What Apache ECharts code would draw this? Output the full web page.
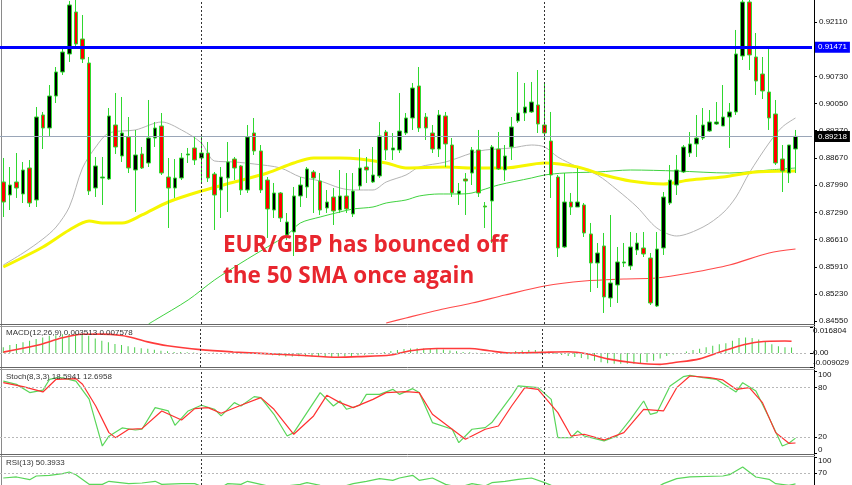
<!DOCTYPE html>
<html><head><meta charset="utf-8">
<script src="https://cdn.jsdelivr.net/npm/echarts@6/dist/echarts.min.js"></script>
<style>html,body{margin:0;padding:0;background:#fff}#c{width:852px;height:485px}</style>
</head><body><div id="c"></div>
<script>
// ---- EUR/GBP candles (price units) ----
const opens = [0.88065,0.87736,0.88065,0.87762,0.88419,0.87610,0.89759,0.89430,0.90239,0.90846,0.91301,0.92363,0.91680,0.91073,0.87913,0.88166,0.88141,0.89506,0.88722,0.89203,0.88368,0.88773,0.88545,0.89177,0.89481,0.88191,0.87913,0.88166,0.88748,0.88925,0.88672,0.88798,0.88267,0.87863,0.88166,0.88646,0.88470,0.87863,0.89304,0.88849,0.88115,0.87357,0.87787,0.86726,0.86801,0.87711,0.87939,0.88318,0.88090,0.87408,0.87686,0.87357,0.87711,0.87256,0.87964,0.88444,0.88065,0.88217,0.89329,0.88874,0.88874,0.89304,0.89683,0.90492,0.89708,0.89304,0.88899,0.89734,0.89000,0.87762,0.88141,0.88292,0.88874,0.87458,0.87585,0.88899,0.88368,0.88950,0.89607,0.89809,0.89835,0.90012,0.89506,0.89101,0.88191,0.86422,0.87559,0.87433,0.87484,0.86751,0.86017,0.86447,0.85132,0.85461,0.86017,0.85942,0.86346,0.86397,0.86144,0.84930,0.86397,0.87534,0.87989,0.88318,0.88798,0.89026,0.89177,0.89354,0.89531,0.89481,0.89708,0.89835,0.91250,0.92615,0.91225,0.90795,0.90340,0.89784,0.88646,0.88292,0.88899];
const closes = [0.87559,0.87989,0.87913,0.88368,0.87534,0.89708,0.89430,0.90239,0.90846,0.91351,0.92540,0.91554,0.91174,0.87837,0.88470,0.88191,0.89734,0.88950,0.89304,0.88419,0.88748,0.88419,0.89177,0.89430,0.88292,0.87913,0.88166,0.88672,0.88773,0.88621,0.88798,0.88166,0.87736,0.88191,0.88571,0.88419,0.87863,0.89203,0.88849,0.87863,0.87383,0.87787,0.87155,0.87054,0.87711,0.87989,0.88394,0.88166,0.87357,0.87559,0.87332,0.87711,0.87383,0.87837,0.88419,0.88368,0.88242,0.89228,0.88874,0.88925,0.89354,0.89683,0.90441,0.89430,0.89430,0.88899,0.89759,0.89026,0.87787,0.87837,0.88090,0.88874,0.87787,0.87433,0.88950,0.88394,0.88722,0.89456,0.89809,0.89961,0.90087,0.89531,0.89304,0.88242,0.86397,0.87559,0.87433,0.87559,0.86776,0.86017,0.86270,0.85158,0.85512,0.86043,0.86043,0.86422,0.86523,0.86245,0.85006,0.86371,0.87686,0.88115,0.88368,0.88950,0.89026,0.89177,0.89506,0.89582,0.89582,0.89708,0.89835,0.91301,0.92615,0.91276,0.90618,0.90366,0.89683,0.88545,0.88343,0.89000,0.89218];
const lows = [0.87180,0.87357,0.87661,0.87534,0.87433,0.87433,0.88899,0.89203,0.90062,0.90770,0.91099,0.91427,0.91073,0.87736,0.87686,0.87484,0.88115,0.88773,0.88571,0.88292,0.87307,0.88394,0.88444,0.88950,0.88242,0.86902,0.87661,0.88115,0.88545,0.88495,0.88065,0.88065,0.86852,0.87155,0.87307,0.88115,0.87736,0.87787,0.88748,0.87787,0.86650,0.87155,0.87054,0.86599,0.86194,0.87433,0.87661,0.87281,0.87231,0.87281,0.86978,0.87281,0.87281,0.87180,0.87863,0.88040,0.88040,0.88166,0.88621,0.88621,0.88798,0.89253,0.89380,0.89329,0.89127,0.88798,0.88697,0.88444,0.87686,0.87484,0.87231,0.87989,0.87686,0.86902,0.86523,0.88368,0.88090,0.88621,0.89557,0.89607,0.89809,0.89304,0.89177,0.87661,0.86169,0.86397,0.87231,0.87433,0.86675,0.85284,0.85385,0.84754,0.84905,0.85006,0.85916,0.85840,0.86220,0.86169,0.84956,0.84905,0.86220,0.87484,0.87736,0.88292,0.88697,0.88697,0.89127,0.89329,0.89506,0.89481,0.88925,0.89759,0.91149,0.90896,0.90264,0.90163,0.89380,0.88495,0.87812,0.88040,0.88292];
const highs = [0.88672,0.88444,0.88798,0.88571,0.88621,0.89961,0.89835,0.90517,0.90972,0.91478,0.92641,0.92666,0.92287,0.91225,0.88697,0.88697,0.89936,0.90315,0.90214,0.89708,0.89380,0.88950,0.90138,0.89582,0.89809,0.88672,0.88646,0.88798,0.88925,0.89203,0.89253,0.89076,0.88318,0.88444,0.89076,0.88697,0.88495,0.89506,0.89683,0.89000,0.88191,0.88040,0.87812,0.87281,0.87939,0.88191,0.88444,0.88368,0.88292,0.87863,0.87913,0.88368,0.88292,0.88292,0.88899,0.88697,0.88950,0.89582,0.89380,0.89304,0.90315,0.89809,0.90568,0.90972,0.89809,0.89506,0.89885,0.89835,0.89177,0.88040,0.88292,0.88950,0.89380,0.87559,0.89000,0.89329,0.89000,0.89708,0.90846,0.90568,0.90593,0.90896,0.90593,0.89835,0.88242,0.88292,0.87787,0.88419,0.87534,0.87029,0.86523,0.86776,0.87231,0.86422,0.86523,0.86801,0.86776,0.86801,0.86270,0.86801,0.87812,0.88495,0.88748,0.89000,0.89329,0.89759,0.89936,0.89885,0.90087,0.90517,0.90062,0.91908,0.92666,0.92666,0.91832,0.91225,0.91453,0.90138,0.89000,0.89000,0.89380];

// ---- moving averages [candle index, price] ----
const sma20 = [[0,0.85967],[3,0.86270],[6,0.86624],[8,0.86927],[10,0.87433],[12,0.88419],[14,0.88950],[16,0.89304],[20,0.89380],[24,0.89582],[27,0.89380],[30,0.89051],[32,0.88596],[35,0.88571],[38,0.88520],[42,0.88419],[45,0.88191],[48,0.88090],[51,0.87913],[53,0.87863],[56,0.87863],[58,0.88065],[61,0.88242],[63,0.88444],[67,0.88571],[71,0.88798],[73,0.88874],[77,0.88925],[80,0.89000],[82,0.88950],[84,0.88697],[87,0.88444],[90,0.88242],[93,0.87863],[96,0.87433],[99,0.86902],[102,0.86700],[106,0.86927],[109,0.87281],[111,0.87686],[113,0.88292],[116,0.89051],[118,0.89456],[120,0.89683]];
const sma50 = [[0,0.85916],[6,0.86422],[10,0.86852],[13,0.87079],[15,0.87029],[18,0.87029],[21,0.87231],[25,0.87559],[30,0.87837],[35,0.88065],[40,0.88292],[44,0.88545],[47,0.88672],[51,0.88672],[54,0.88646],[58,0.88545],[61,0.88419],[67,0.88444],[71,0.88419],[76,0.88419],[82,0.88545],[87,0.88444],[91,0.88242],[95,0.88090],[100,0.88014],[104,0.88115],[109,0.88191],[114,0.88318],[120,0.88343]];
const sma100 = [[22,0.84475],[23,0.84576],[28,0.85082],[32,0.85588],[36,0.86017],[40,0.86422],[43,0.86726],[45,0.87029],[48,0.87180],[51,0.87307],[53,0.87383],[56,0.87433],[58,0.87534],[61,0.87610],[63,0.87711],[66,0.87762],[69,0.87762],[71,0.87787],[75,0.87989],[80,0.88166],[82,0.88242],[85,0.88292],[90,0.88318],[95,0.88368],[102,0.88343],[110,0.88292],[116,0.88368],[120,0.88419]];
const sma200 = [[58,0.84501],[61,0.84627],[66,0.84829],[71,0.85006],[76,0.85208],[82,0.85436],[88,0.85562],[94,0.85613],[99,0.85638],[104,0.85765],[110,0.85967],[116,0.86270],[120,0.86371]];

const resistanceLevel = 0.91471;
const lastPrice = 0.89218;
const priceTicks = [0.84550,0.85230,0.85910,0.86610,0.87290,0.87990,0.88670,0.89370,0.90050,0.90730,0.92110];
const separators = [30, 82];

// ---- MACD(12,26,9) ----
const macdHist = [0.00377,0.00522,0.00585,0.00692,0.00799,0.00900,0.01006,0.01113,0.01151,0.01214,0.01214,0.01277,0.01214,0.01113,0.00944,0.00799,0.00692,0.00585,0.00522,0.00440,0.00377,0.00315,0.00270,0.00208,0.00145,0.00107,0.00063,0.00063,0.00044,0.00031,0.00019,0.00025,0.00013,0.00006,-0.00006,0.00013,0.00006,0.00013,-0.00019,-0.00050,-0.00094,-0.00138,-0.00176,-0.00220,-0.00220,-0.00208,-0.00208,-0.00220,-0.00233,-0.00252,-0.00252,-0.00239,-0.00220,-0.00189,-0.00145,-0.00107,-0.00063,0,0.00063,0.00126,0.00189,0.00252,0.00296,0.00315,0.00296,0.00270,0.00252,0.00233,0.00170,0.00107,0.00063,0.00044,0.00019,-0.00044,-0.00019,0,0.00019,0.00063,0.00126,0.00170,0.00189,0.00189,0.00145,0.00082,-0.00044,-0.00126,-0.00189,-0.00252,-0.00315,-0.00409,-0.00503,-0.00598,-0.00660,-0.00692,-0.00692,-0.00692,-0.00692,-0.00660,-0.00598,-0.00503,-0.00346,-0.00189,-0.00094,0,0.00094,0.00189,0.00283,0.00377,0.00472,0.00566,0.00629,0.00786,0.00975,0.01006,0.00975,0.00881,0.00723,0.00566,0.00440,0.00377,0.00351];
const macdSignal = [[0,0.0006],[5,0.0048],[9,0.0098],[12,0.0121],[15,0.0122],[18,0.0113],[20,0.0096],[22,0.0072],[25,0.0047],[30,0.0022],[35,0.0007],[40,-0.0004],[45,-0.00145],[51,-0.0027],[54,-0.00233],[59,-0.00126],[62,0.00145],[66,0.00296],[71,0.00296],[74,0.00145],[77,0],[82,0.00044],[86,0.00082],[89,-0.00063],[92,-0.00377],[96,-0.00629],[100,-0.00736],[102,-0.00629],[106,-0.00377],[109,0.00044],[112,0.00459],[115,0.00711],[119,0.00774],[120,0.007578]];
const macdTicks = [-0.009029, 0, 0.016804];
const macdTickLabels = ['-0.009029', '0.00', '0.016804'];

// ---- Stoch(8,3,3) ----
const stochMain = [[0,88],[2,84],[4,74],[6,77],[7,90],[8,92],[9,92],[11,88],[13,66],[14,37.5],[15,9],[16,21],[18,31],[20,28.5],[21,29.4],[23,55.7],[25,51.7],[26,34.2],[28,51.7],[30,58.6],[32,53.7],[33,45.6],[35,61.8],[36,57.7],[38,69.1],[39,67.9],[41,47.6],[43,21.2],[44,25.3],[46,49.6],[48,74],[50,57.7],[51,63.8],[52,53.7],[54,58.6],[55,71.9],[57,71.9],[59,78],[60,71.9],[62,78.8],[63,74],[65,37.5],[68,29.4],[69,13.1],[71,29.4],[73,31.4],[74,37.5],[77,69.9],[78,82.1],[81,80],[83,65.8],[84,19.2],[86,19.2],[87,27.3],[88,21.2],[91,15.2],[93,21.2],[95,41.5],[97,63.8],[98,47.6],[99,49.6],[101,82.1],[103,93.4],[104,95],[106,92.2],[108,90.2],[111,74.8],[112,86.1],[114,76],[116,43.5],[118,9.1],[119,12.3],[120,18.59]];
const stochSignal = [[0,86.1],[3,81.3],[6,74.8],[8,90.2],[11,91],[12,84.1],[14,57.7],[16,25.3],[17,19.2],[19,29.4],[21,30.2],[24,51.7],[27,40.7],[29,54.5],[31,55.7],[33,48.8],[36,58.6],[39,67.9],[41,53.7],[44,23.3],[47,45.6],[49,70.7],[51,61.8],[53,55.7],[56,65.8],[58,74],[61,75.2],[63,74],[65,47.6],[68,29.4],[70,17.2],[73,29.4],[75,33.4],[77,57.7],[79,80],[81,78],[84,49.6],[86,21.2],[88,23.3],[91,16.4],[94,25.3],[97,53.7],[100,51.7],[102,80],[104,94.2],[107,92.2],[109,89.4],[111,78],[113,80],[115,61.8],[117,25.3],[119,12.3],[120,12.7]];
const stochTicks = [0, 20, 80, 100];

// ---- RSI(13) ----
const rsi = [[0,61.3],[2,63.2],[4,58.2],[5,65],[7,66.2],[9,69.3],[10,72.4],[11,67.4],[13,49.6],[15,49.6],[16,55.2],[19,50.9],[21,52.1],[23,55.2],[24,49.6],[27,50.9],[29,50.9],[30,46],[33,44],[34,50.9],[36,49.6],[37,55.2],[39,49.6],[41,44],[45,49.6],[46,52.7],[48,47.8],[51,44],[53,50.9],[55,55.2],[57,60.1],[59,57],[60,61.3],[62,66.2],[63,57],[65,61.3],[67,49.6],[69,44],[71,50.9],[73,46.6],[74,52.7],[76,55.2],[78,58.9],[80,61.3],[82,52.7],[83,47.8],[85,40],[88,35],[92,30],[96,38],[99,44],[100,50.9],[102,60.1],[104,63.2],[109,65],[110,67.4],[112,81.6],[114,63.2],[116,58.9],[117,50.9],[119,47.8],[120,50.39]];
const rsiTicks = [70, 100];

const nCats = 123;
const cats = Array.from({length: nCats}, (_, i) => String(i));
const FONT = 'Liberation Sans';

const chart = echarts.init(document.getElementById('c'));

function xAx(gi) {
  return {type:'category', gridIndex: gi, data: cats, boundaryGap: true, show: false};
}
function yAx(gi, min, max, ticks, fmt, margin, extra) {
  return {
    type:'value', gridIndex: gi, position:'right', offset: 2, min, max,
    axisLine:{show:false}, splitLine:{show:false},
    axisTick:{show:true, customValues: ticks, length:3, lineStyle:{color:'#000'}},
    axisLabel:Object.assign({customValues: ticks, formatter: fmt, fontSize: 8, fontFamily: FONT, color:'#111', margin: margin}, extra || {})
  };
}
const sepLines = separators.map(s => ({xAxis: s, lineStyle:{color:'#333', type:[2,2], width:1}, label:{show:false}}));
const dotted = (v) => ({yAxis: v, lineStyle:{color:'#b8b8b8', type:[2,2], width:1}, label:{show:false}});

const option = {
  animation: false,
  backgroundColor: '#ffffff',
  grid: [
    {left:0, top:0, width:812, height:324},
    {left:0, top:327, width:812, height:40},
    {left:0, top:370, width:812, height:84},
    {left:0, top:457, width:812, height:28}
  ],
  xAxis: [xAx(0), xAx(1), xAx(2), xAx(3)],
  yAxis: [
    yAx(0, 0.84475, 0.92666, priceTicks, v => v.toFixed(5), 5),
    yAx(1, -0.009029, 0.016804, macdTicks, v => {
      let k = 0; macdTicks.forEach((t, i) => { if (Math.abs(t - v) < Math.abs(macdTicks[k] - v)) k = i; });
      return macdTickLabels[k];
    }, 3, {verticalAlignMinLabel:'bottom', verticalAlignMaxLabel:'top'}),
    yAx(2, -0.7, 101.5, stochTicks, v => String(Math.round(v)), 4, {verticalAlignMinLabel:'bottom', verticalAlignMaxLabel:'top'}),
    yAx(3, 48.4, 100, rsiTicks, v => String(Math.round(v)), 4, {verticalAlignMaxLabel:'top', showMinLabel:true})
  ],
  series: [
    {type:'line', xAxisIndex:0, yAxisIndex:0, data: sma200, smooth:0.3, symbol:'none', lineStyle:{color:'#ff4a4a', width:1.2}, z:2},
    {type:'line', xAxisIndex:0, yAxisIndex:0, data: sma100, smooth:0.3, symbol:'none', lineStyle:{color:'#3fd23f', width:1}, z:2},
    {type:'line', xAxisIndex:0, yAxisIndex:0, data: sma20, smooth:0.3, symbol:'none', lineStyle:{color:'#b4b4b4', width:1}, z:2},
    {type:'line', xAxisIndex:0, yAxisIndex:0, data: sma50, smooth:0.3, symbol:'none', lineStyle:{color:'#f6f600', width:3}, z:2,
      markLine:{silent:true, precision:5, symbol:['none','none'], label:{show:false}, z:4,
        data: sepLines.concat([
          {yAxis: lastPrice, lineStyle:{color:'#9aa6b8', type:'solid', width:1},
            label:{show:true, position:'end', distance:3, formatter: lastPrice.toFixed(5), color:'#fff', backgroundColor:'#000', padding:[2,3,1,3], fontSize:8, fontFamily:FONT}},
          {yAxis: resistanceLevel, lineStyle:{color:'#0000ff', type:'solid', width:3},
            label:{show:true, position:'end', distance:3, formatter: resistanceLevel.toFixed(5), color:'#fff', backgroundColor:'#0000ff', padding:[2,3,1,3], fontSize:8, fontFamily:FONT}}
        ])}
    },
    {type:'candlestick', xAxisIndex:0, yAxisIndex:0, barWidth:4, z:3,
      data: opens.map((o, i) => [o, closes[i], lows[i], highs[i]]),
      itemStyle:{color:'#000000', color0:'#ff0000', borderColor:'#2fd82f', borderColor0:'#2fd82f', borderWidth:1}
    },
    {type:'bar', xAxisIndex:1, yAxisIndex:1, data: macdHist, barWidth:1, itemStyle:{color:'#4ccf4c'},
      markLine:{silent:true, precision:5, symbol:['none','none'], label:{show:false}, data: sepLines.concat([dotted(0)])}},
    {type:'line', xAxisIndex:1, yAxisIndex:1, data: macdSignal, smooth:0.3, symbol:'none', lineStyle:{color:'#ff3b3b', width:1.6}},
    {type:'line', xAxisIndex:2, yAxisIndex:2, data: stochMain, symbol:'none', lineStyle:{color:'#5ad65a', width:1.2},
      markLine:{silent:true, symbol:['none','none'], label:{show:false}, data: sepLines.concat([dotted(80), dotted(20)])}},
    {type:'line', xAxisIndex:2, yAxisIndex:2, data: stochSignal, symbol:'none', lineStyle:{color:'#ff3030', width:1.2}},
    {type:'line', xAxisIndex:3, yAxisIndex:3, data: rsi, symbol:'none', lineStyle:{color:'#5ad65a', width:1.2},
      markLine:{silent:true, symbol:['none','none'], label:{show:false}, data: sepLines.concat([dotted(70)])}}
  ],
  graphic: [
    {type:'line', shape:{x1:1.5, y1:0, x2:1.5, y2:485}, style:{stroke:'#8a8a8a', lineWidth:1}, silent:true},
    {type:'line', shape:{x1:814.5, y1:0, x2:814.5, y2:485}, style:{stroke:'#000', lineWidth:1}, silent:true},
    {type:'line', shape:{x1:0, y1:324.5, x2:815, y2:324.5}, style:{stroke:'#666', lineWidth:1}, silent:true},
    {type:'line', shape:{x1:0, y1:326.5, x2:815, y2:326.5}, style:{stroke:'#999', lineWidth:1}, silent:true},
    {type:'line', shape:{x1:0, y1:367.5, x2:815, y2:367.5}, style:{stroke:'#666', lineWidth:1}, silent:true},
    {type:'line', shape:{x1:0, y1:369.5, x2:815, y2:369.5}, style:{stroke:'#999', lineWidth:1}, silent:true},
    {type:'line', shape:{x1:0, y1:454.5, x2:815, y2:454.5}, style:{stroke:'#666', lineWidth:1}, silent:true},
    {type:'line', shape:{x1:0, y1:456.5, x2:815, y2:456.5}, style:{stroke:'#999', lineWidth:1}, silent:true},
    {type:'text', style:{x:6, y:333, text:'MACD(12,26,9) 0.003513 0.007578', fill:'#333', fontSize:8, fontFamily:FONT, verticalAlign:'middle'}, silent:true, z:10},
    {type:'text', style:{x:6, y:377, text:'Stoch(8,3,3) 18.5941 12.6958', fill:'#333', fontSize:8, fontFamily:FONT, verticalAlign:'middle'}, silent:true, z:10},
    {type:'text', style:{x:6, y:463, text:'RSI(13) 50.3933', fill:'#333', fontSize:8, fontFamily:FONT, verticalAlign:'middle'}, silent:true, z:10},
    {type:'text', style:{x:223, y:246, text:'EUR/GBP has bounced off', fill:'#e8262e', fontSize:22.5, fontWeight:'bold', fontFamily:'Open Sans', verticalAlign:'middle'}, silent:true, z:10},
    {type:'text', style:{x:223, y:277, text:'the 50 SMA once again', fill:'#e8262e', fontSize:22.5, fontWeight:'bold', fontFamily:'Open Sans', verticalAlign:'middle'}, silent:true, z:10}
  ]
};
chart.setOption(option);
</script>
</body></html>
